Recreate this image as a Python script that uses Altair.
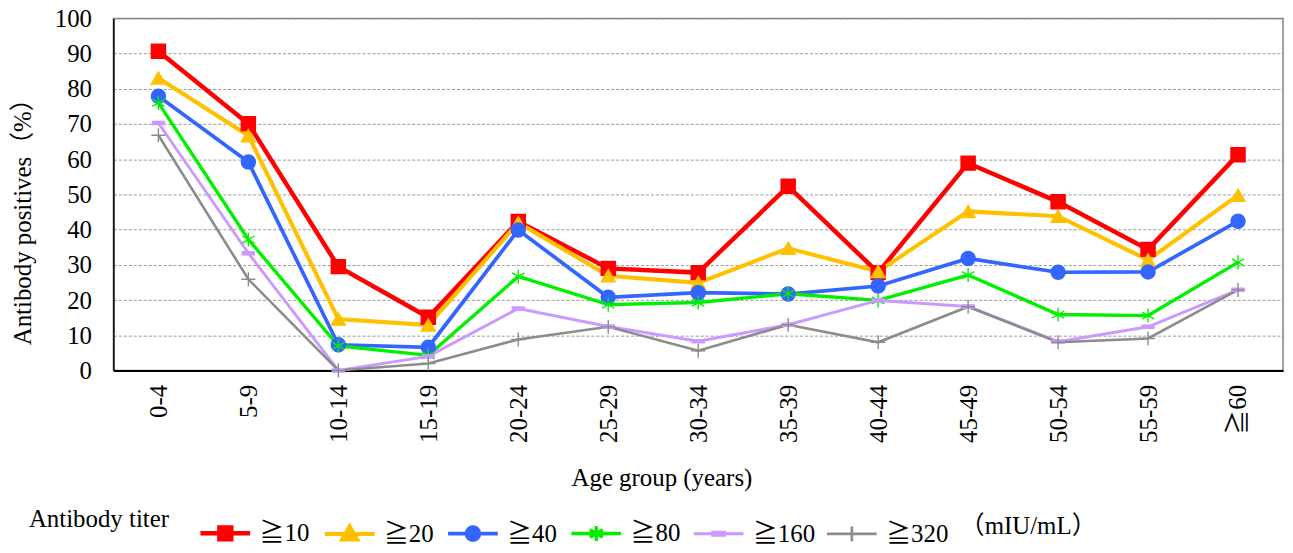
import altair as alt
import pandas as pd

categories = ["0-4", "5-9", "10-14", "15-19", "20-24", "25-29", "30-34",
              "35-39", "40-44", "45-49", "50-54", "55-59", "≧60"]
series = ["≧10", "≧20", "≧40", "≧80", "≧160", "≧320"]
v10 = [90.7, 70.1, 29.5, 15.1, 42.3, 29.0, 27.8, 52.3, 27.8, 58.9, 47.9, 34.4, 61.3]
v20 = [83.1, 66.7, 14.6, 12.9, 42.0, 26.9, 24.9, 34.7, 28.1, 45.2, 43.8, 31.4, 49.8]
v40 = [77.9, 59.2, 7.3, 6.6, 39.9, 20.8, 22.1, 21.7, 24.0, 31.8, 27.9, 28.0, 42.4]
v80 = [76.0, 37.2, 7.0, 4.3, 26.7, 18.7, 19.3, 21.8, 19.9, 27.1, 15.9, 15.6, 30.7]
v160 = [70.3, 33.3, 0.0, 4.0, 17.6, 12.5, 8.3, 13.0, 19.9, 18.2, 8.2, 12.4, 22.9]
v320 = [66.8, 25.9, 0.0, 2.0, 8.8, 12.4, 5.6, 13.0, 8.0, 18.1, 8.0, 9.1, 22.9]
y_ticks = [0, 10, 20, 30, 40, 50, 60, 70, 80, 90, 100]

colors = ["#FF0000", "#FFC000", "#3366FF", "#00F000", "#CC99FF", "#8C8C8C"]
line_widths = [4.5, 2.6, 2.6, 2.6, 3.0, 2.6]

ASTER = "M0,-1L0,1M-0.87,-0.5L0.87,0.5M-0.87,0.5L0.87,-0.5"
DASH = "M-0.85,-0.22L0.85,-0.22L0.85,0.22L-0.85,0.22Z"
PLUS = "M0,-1L0,1M-1,0L1,0"
point_shapes = ["square", "triangle-up", "circle", ASTER, DASH, PLUS]

# legend symbols: line segment + marker (unit = 25px)
LINE = "M-1,0L1,0"
legend_paths = [
    LINE + "M-0.24,-0.24L0.24,-0.24L0.24,0.24L-0.24,0.24Z",
    LINE + "M0,-0.3L0.3,0.22L-0.3,0.22Z",
    LINE + "M-0.26,0A0.26,0.26,0,1,0,0.26,0A0.26,0.26,0,1,0,-0.26,0Z",
    LINE + "M0,-0.3L0,0.3M-0.26,-0.15L0.26,0.15M-0.26,0.15L0.26,-0.15",
    LINE + "M-0.24,-0.06L0.24,-0.06L0.24,0.06L-0.24,0.06Z",
    LINE + "M0,-0.3L0,0.3",
]
legend_sw = [4.5, 2.6, 2.6, 2.6, 3.0, 2.6]

rows = []
for s, vals in zip(series, [v10, v20, v40, v80, v160, v320]):
    for c, v in zip(categories, vals):
        rows.append({"age": c, "series": s, "value": v})
df = pd.DataFrame(rows)

FONT = "Liberation Serif, 'Noto Sans CJK JP', serif"
FS = 25

x_enc = alt.X(
    "age:N", sort=categories,
    scale=alt.Scale(type="point", padding=0.5),
    axis=alt.Axis(
        labelAngle=270, ticks=False, grid=False, labelPadding=14,
        domainColor="black", domainWidth=2,
        title="Age group (years)", titleX=551, titleY=116,
        titleAlign="center", titleBaseline="alphabetic",
    ),
)
y_enc = alt.Y(
    "value:Q",
    scale=alt.Scale(domain=[0, 100], nice=False),
    axis=alt.Axis(
        values=y_ticks, grid=True, gridDash=[3, 2], gridColor="#999999",
        gridWidth=1, ticks=False, labelPadding=22,
        domainColor="black", domainWidth=1.5,
        title="Antibody positives（%）", titleX=-91, titleY=198,
        titleAngle=270, titleAlign="center", titleBaseline="middle",
    ),
)

lines = alt.Chart(df).mark_line().encode(
    x=x_enc,
    y=y_enc,
    color=alt.Color("series:N", scale=alt.Scale(domain=series, range=colors), legend=None),
    strokeWidth=alt.StrokeWidth("series:N", scale=alt.Scale(domain=series, range=line_widths), legend=None),
)

points = alt.Chart(df).mark_point(filled=True, size=200, opacity=1, strokeWidth=1.4).encode(
    x=x_enc,
    y=y_enc,
    color=alt.Color("series:N", scale=alt.Scale(domain=series, range=colors), legend=None),
    stroke=alt.Stroke("series:N", scale=alt.Scale(domain=series, range=colors), legend=None),
    shape=alt.Shape("series:N", scale=alt.Scale(domain=series, range=point_shapes), legend=None),
)

def make_legend():
    return alt.Legend(
        title=None, orient="none", legendX=85, legendY=490,
        direction="horizontal", columns=6, symbolSize=2500,
        labelFont=FONT, labelFontSize=FS, labelColor="black",
        labelOffset=7, columnPadding=6, padding=0, symbolOpacity=1,
    )

legend_layer = alt.Chart(df).transform_filter("false").mark_point(filled=True, opacity=1).encode(
    color=alt.Color("series:N", scale=alt.Scale(domain=series, range=colors), legend=make_legend()),
    stroke=alt.Stroke("series:N", scale=alt.Scale(domain=series, range=colors), legend=make_legend()),
    shape=alt.Shape("series:N", scale=alt.Scale(domain=series, range=legend_paths), legend=make_legend()),
    strokeWidth=alt.StrokeWidth("series:N", scale=alt.Scale(domain=series, range=legend_sw), legend=make_legend()),
)

title_df = pd.DataFrame({"t": ["Antibody titer"]})
unit_df = pd.DataFrame({"t": ["（mIU/mL）"]})
leg_title = alt.Chart(title_df).mark_text(
    font=FONT, fontSize=FS, align="left", baseline="alphabetic", color="black"
).encode(text="t:N", x=alt.value(-85), y=alt.value(511))
unit_text = alt.Chart(unit_df).mark_text(
    font=FONT, fontSize=FS, align="left", baseline="alphabetic", color="black"
).encode(text="t:N", x=alt.value(851), y=alt.value(518))

chart = alt.layer(lines, points, legend_layer, leg_title, unit_text).resolve_scale(
    color="independent", stroke="independent", shape="independent", strokeWidth="independent"
).properties(
    width=1176, height=354,
    padding={"left": 106, "top": 9, "right": 2, "bottom": 174},
    autosize="none",
).configure_view(
    stroke="#808080", strokeWidth=1.5
).configure_axis(
    labelFont=FONT, titleFont=FONT, labelFontSize=FS, titleFontSize=FS,
    labelColor="black", titleColor="black", titleFontWeight="normal",
)

chart.save("out.html", embed_options={"renderer": "svg", "actions": False})
